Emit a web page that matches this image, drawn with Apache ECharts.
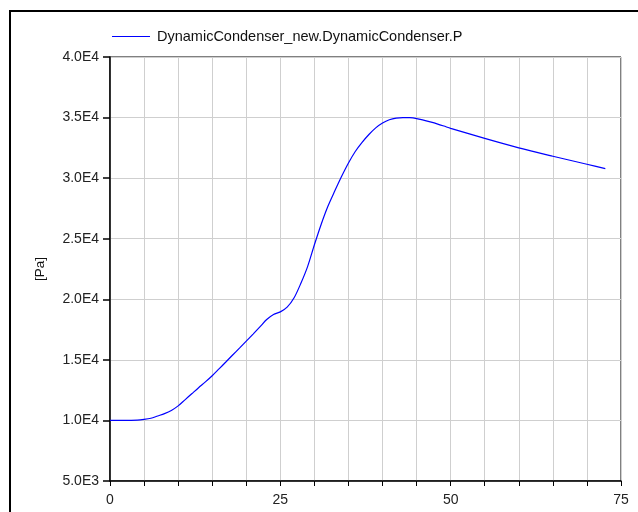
<!DOCTYPE html>
<html>
<head>
<meta charset="utf-8">
<script src="https://cdn.jsdelivr.net/npm/echarts@6/dist/echarts.min.js"></script>
<style>
html,body{margin:0;padding:0;background:#fff;}
#frame{position:absolute;left:9px;top:10px;width:640px;height:520px;border-left:2px solid #000;border-top:2px solid #000;}
#chart{position:absolute;left:0;top:0;width:638px;height:512px;}
</style>
</head>
<body>
<div id="frame"></div>
<div id="chart"></div>
<script>
const seriesName = 'DynamicCondenser_new.DynamicCondenser.P';
const timeValues = [0, 2, 4, 5, 6, 7, 8, 9, 10, 11, 12, 13, 14, 15, 16, 17, 18, 19, 20, 21, 22, 23, 24, 25, 26, 27, 28, 29, 30, 31, 32, 33, 34, 35, 36, 37, 38, 39, 40, 41, 42, 43, 44, 45, 46, 47, 48, 49, 50, 55, 60, 65, 70, 72.7];
const pressureValues = [10000, 10000, 10020, 10080, 10180, 10370, 10560, 10820, 11200, 11700, 12200, 12700, 13180, 13690, 14250, 14820, 15400, 15970, 16550, 17130, 17720, 18330, 18750, 18960, 19350, 20100, 21300, 22700, 24500, 26200, 27700, 28950, 30150, 31250, 32200, 32950, 33600, 34150, 34550, 34820, 34960, 35000, 34990, 34920, 34790, 34640, 34480, 34300, 34110, 33280, 32500, 31810, 31150, 30790];
const xTickLabels = [0, 25, 50, 75];
const yAxisName = '[Pa]';

const fontFamily = 'Liberation Sans, Arial, sans-serif';
const chart = echarts.init(document.getElementById('chart'), null, {renderer: 'canvas'});
const data = timeValues.map((t, i) => [t, pressureValues[i]]);
chart.setOption({
  animation: false,
  backgroundColor: 'transparent',
  legend: {
    left: 112, top: 29, padding: 0,
    itemWidth: 38, itemHeight: 14, itemGap: 10,
    icon: 'path://M0,0 L38,0 L38,1 L0,1 Z',
    textStyle: {fontFamily: fontFamily, fontSize: 14.5, color: '#111', padding: [0, 0, 0, 2]},
    data: [{name: seriesName, itemStyle: {color: '#0000ff'}}]
  },
  grid: {
    left: 110, right: 17, top: 57, bottom: 31,
    show: true, borderColor: '#000', borderWidth: 1
  },
  xAxis: {
    type: 'value', min: 0, max: 75, interval: 5,
    axisLine: {show: true, onZero: false, lineStyle: {color: '#000', width: 1.5}},
    axisTick: {show: true, inside: false, length: 5, lineStyle: {color: '#000', width: 1}},
    axisLabel: {
      margin: 12, fontFamily: fontFamily, fontSize: 14, color: '#222',
      formatter: v => xTickLabels.indexOf(v) >= 0 ? String(v) : ''
    },
    splitLine: {show: true, lineStyle: {color: '#cfcfcf', width: 1}}
  },
  yAxis: {
    type: 'value', min: 5000, max: 40000, interval: 5000,
    name: yAxisName, nameLocation: 'middle', nameGap: 63, nameRotate: 90,
    nameTextStyle: {fontFamily: fontFamily, fontSize: 13.5, color: '#111'},
    axisLine: {show: true, onZero: false, lineStyle: {color: '#000', width: 1.5}},
    axisTick: {show: true, inside: false, length: 7, lineStyle: {color: '#000', width: 1.5}},
    axisLabel: {
      margin: 11, fontFamily: fontFamily, fontSize: 14, color: '#222',
      formatter: v => v.toExponential(1).toUpperCase().replace('E+', 'E')
    },
    splitLine: {show: true, lineStyle: {color: '#cfcfcf', width: 1}}
  },
  series: [{
    name: seriesName, type: 'line', data: data,
    showSymbol: false, smooth: 0.3,
    lineStyle: {color: '#0000ff', width: 1.2},
    itemStyle: {color: '#0000ff'}
  }]
});
</script>
</body>
</html>
